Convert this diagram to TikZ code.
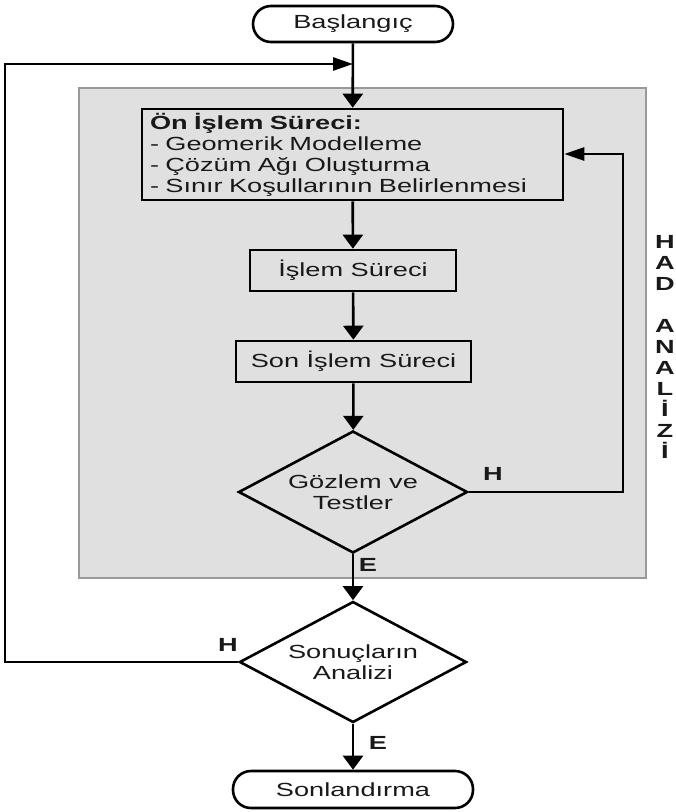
\documentclass[tikz,border=0pt]{standalone}
\usepackage{fontspec}
\setmainfont{Liberation Sans}[FakeStretch=1.43]
\usetikzlibrary{shapes.geometric,arrows.meta}

\def\linew{2.6pt}
\def\pitch{21pt}
\def\mainx{353}

\begin{document}
\begin{tikzpicture}[
        x=1pt,y=-1pt,
        font=\fontsize{19}{21}\selectfont,
        text=black!90,
        line width=\linew,
        terminal/.style={draw,rounded corners=18pt,minimum height=36pt,inner sep=0pt},
        process/.style={draw,minimum height=41pt,inner sep=0pt},
        decision/.style={draw,diamond,aspect=1.88,inner sep=0pt,
            minimum width=229pt,minimum height=122pt,align=center},
        groupbox/.style={draw=black!40,fill=black!12,line width=2.2pt,inner sep=0pt},
        lbl/.style={font=\fontsize{19}{21}\selectfont\bfseries,inner sep=0pt},
        % vertical and horizontal arrows (the drawing is stretched sideways)
        varr/.style={-{Triangle[length=14pt,width=20pt]}},
        harr/.style={-{Triangle[length=20pt,width=13pt]}},
    ]
    \useasboundingbox (0,0) rectangle (676,812);

    % grey region of the inner loop
    \node[groupbox,minimum width=567pt,minimum height=490pt] (group) at (362.5,333) {};

    \node[terminal,minimum width=200pt] (start) at (\mainx,24) {Başlangıç};
    \node[process,minimum width=421pt,minimum height=91pt,text width=405pt,align=left]
        (pre) at (352.5,154.5)
        {\textbf{Ön İşlem Süreci:}\\- Geomerik Modelleme\\- Çözüm Ağı Oluşturma\\- Sınır Koşullarının Belirlenmesi};
    \node[process,minimum width=206pt] (proc) at (\mainx,270.5) {İşlem Süreci};
    \node[process,minimum width=235pt] (post) at (353.5,361.5) {Son İşlem Süreci};
    \node[decision] (test) at (\mainx,492) {Gözlem ve\\Testler};
    \node[decision,minimum width=227pt,minimum height=121pt] (result) at (\mainx,662) {Sonuçların\\Analizi};
    \node[terminal,minimum width=240pt,minimum height=37pt] (stop) at (\mainx,789.5) {Sonlandırma};

    \coordinate (join) at (\mainx,64);
    \coordinate (loopcorner) at (5,64);
    \coordinate (fbcorner) at (623,154);

    \draw[varr] (start) -- (pre);
    \draw[varr] (pre) -- (proc);
    \draw[varr] (proc) -- (post);
    \draw[varr] (post) -- (test);
    \draw[varr] (test) -- (result);
    \draw[varr] (result) -- (stop);
    % feedback loops
    \draw[harr] (test.east) -| (fbcorner) -- (pre.east |- fbcorner);
    \draw[harr] (result.west) -| (loopcorner) -- (join);

    \node[lbl] (testno) at (493,474) {H};
    \node[lbl] (testyes) at (368,565) {E};
    \node[lbl] (resultno) at (228,645) {H};
    \node[lbl] (resultyes) at (378,743) {E};
    \node[lbl,align=center] (side) at (665,347) {H\\A\\D\\[\pitch]A\\N\\A\\L\\İ\\Z\\İ};
\end{tikzpicture}
\end{document}
